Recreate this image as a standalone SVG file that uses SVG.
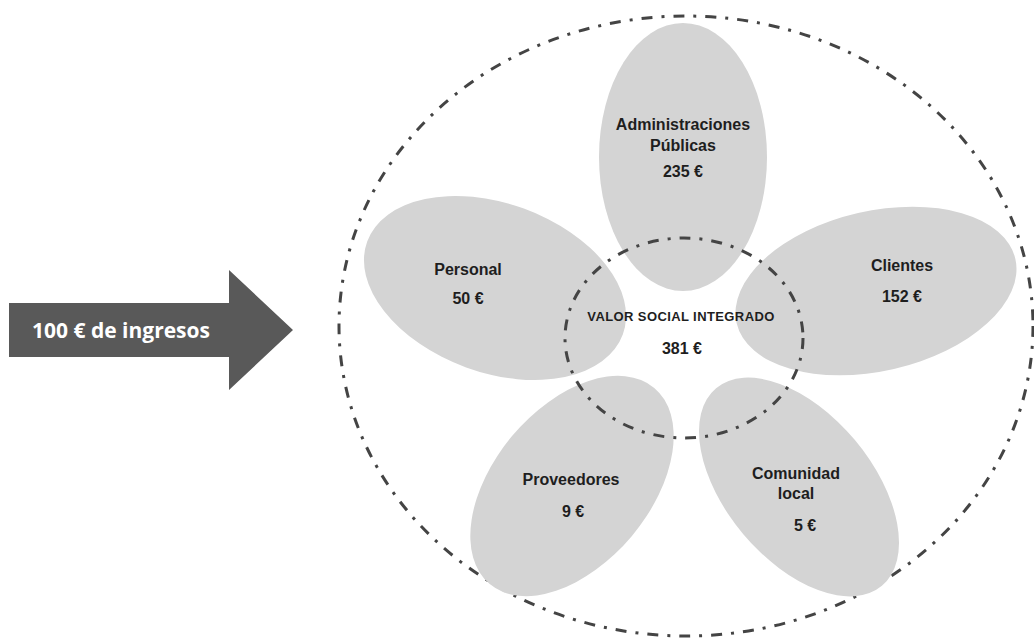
<svg xmlns="http://www.w3.org/2000/svg" width="1034" height="639" viewBox="0 0 1034 639">
  <style>
    .petal { fill: #d4d4d4; }
    .ring { fill: none; stroke: #444444; stroke-width: 3; stroke-dasharray: 11 9 3 9; stroke-linecap: butt; }
    .lbl { font-family: "Liberation Sans", Arial, sans-serif; font-weight: bold; font-size: 16px; fill: #1e1e1e; text-anchor: middle; }
    .core { font-size: 13px; letter-spacing: 0.4px; }
    .arrow { fill: #595959; }
    .arrow-lbl { font-family: "Open Sans", "Liberation Sans", sans-serif; font-weight: bold; font-size: 21px; fill: #ffffff; }
  </style>

  <rect width="1034" height="639" fill="#ffffff"/>

  <!-- income arrow -->
  <g id="ingresos">
    <polygon class="arrow" points="9,303 229,303 229,270 293,330 229,390 229,357 9,357"/>
    <text class="arrow-lbl" x="32" y="338">100 € de ingresos</text>
  </g>

  <!-- outer boundary -->
  <g id="contorno">
    <ellipse class="ring" cx="686" cy="326" rx="347" ry="310"/>
  </g>

  <!-- stakeholder petals -->
  <g id="administraciones">
    <ellipse class="petal" cx="683" cy="157" rx="84" ry="134"/>
    <text class="lbl" x="683" y="130">Administraciones</text>
    <text class="lbl" x="683" y="151">Públicas</text>
    <text class="lbl" x="683" y="177">235 €</text>
  </g>

  <g id="personal">
    <ellipse class="petal" cx="495" cy="288" rx="136" ry="84.5" transform="rotate(20 495 288)"/>
    <text class="lbl" x="468" y="275">Personal</text>
    <text class="lbl" x="468" y="304">50 €</text>
  </g>

  <g id="clientes">
    <ellipse class="petal" cx="876" cy="291" rx="143" ry="80" transform="rotate(-13 876 291)"/>
    <text class="lbl" x="902" y="271">Clientes</text>
    <text class="lbl" x="902" y="302">152 €</text>
  </g>

  <g id="proveedores">
    <ellipse class="petal" cx="572" cy="486" rx="128" ry="78" transform="rotate(-50 572 486)"/>
    <text class="lbl" x="571" y="485">Proveedores</text>
    <text class="lbl" x="573" y="517">9 €</text>
  </g>

  <g id="comunidad">
    <ellipse class="petal" cx="799" cy="487" rx="129" ry="73" transform="rotate(50 799 487)"/>
    <text class="lbl" x="796" y="479">Comunidad</text>
    <text class="lbl" x="796" y="499">local</text>
    <text class="lbl" x="805" y="531">5 €</text>
  </g>

  <!-- integrated social value core -->
  <g id="valor-social">
    <ellipse class="ring" cx="684" cy="338" rx="119" ry="100"/>
    <text class="lbl core" x="681" y="321">VALOR SOCIAL INTEGRADO</text>
    <text class="lbl" x="682" y="354">381 €</text>
  </g>
</svg>
